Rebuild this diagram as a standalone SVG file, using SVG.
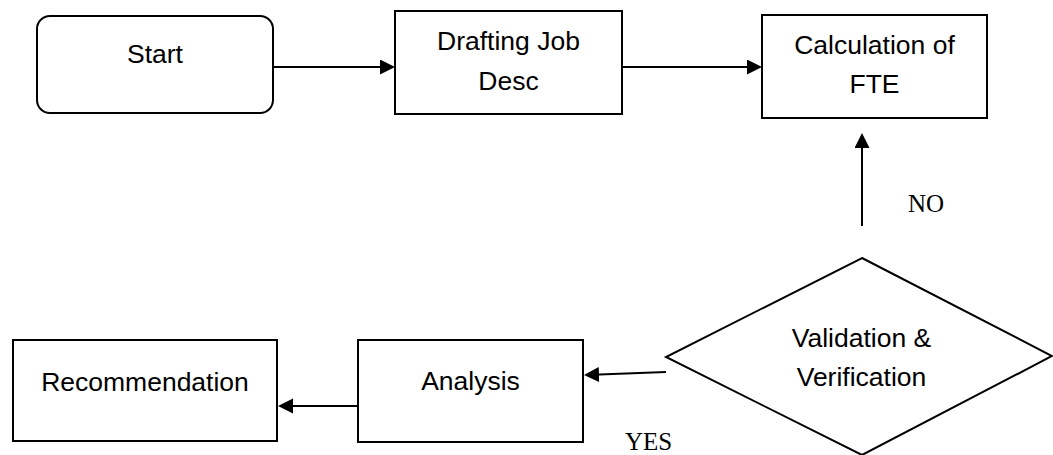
<svg xmlns="http://www.w3.org/2000/svg" width="1053" height="455" viewBox="0 0 1053 455">
<style>
.box{fill:#fff;stroke:#000;stroke-width:2}
.lbl{font-family:"Liberation Sans",Arial,sans-serif;font-size:26.5px;fill:#000;text-anchor:middle}
.ser{font-family:"Liberation Serif","Times New Roman",serif;font-size:25px;fill:#000}
.con{stroke:#000;stroke-width:2;fill:none;marker-end:url(#ah)}
</style>
<defs>
<marker id="ah" markerUnits="userSpaceOnUse" markerWidth="16" markerHeight="16" refX="13" refY="7.5" orient="auto">
<path d="M0,0 L15,7.5 L0,15 z" fill="#000"/>
</marker>
</defs>
<rect width="1053" height="455" fill="#fff"/>
<g id="connectors">
<line class="con" x1="273" y1="67" x2="393" y2="67"/>
<line class="con" x1="622" y1="67" x2="760" y2="67"/>
<line class="con" x1="862" y1="226" x2="862" y2="135"/>
<line class="con" x1="666" y1="372" x2="586" y2="375"/>
<line class="con" x1="358" y1="406" x2="280" y2="406"/>
</g>
<g id="start">
<rect class="box" x="37" y="16" width="236" height="97" rx="13"/>
<text class="lbl" x="155" y="63">Start</text>
</g>
<g id="drafting">
<rect class="box" x="395" y="11" width="227" height="103"/>
<text class="lbl" x="508.5" y="50">Drafting Job</text>
<text class="lbl" x="508.5" y="89.5">Desc</text>
</g>
<g id="calculation">
<rect class="box" x="762" y="15" width="225" height="103"/>
<text class="lbl" x="874.5" y="54">Calculation of</text>
<text class="lbl" x="874.5" y="93">FTE</text>
</g>
<g id="validation">
<polygon class="box" points="862,258 1052,356 862,455 666,357"/>
<text class="lbl" x="861.5" y="346.5">Validation &amp;</text>
<text class="lbl" x="861.5" y="386">Verification</text>
</g>
<g id="analysis">
<rect class="box" x="358" y="340" width="225" height="102"/>
<text class="lbl" x="470.5" y="390">Analysis</text>
</g>
<g id="recommendation">
<rect class="box" x="13" y="340" width="264" height="101"/>
<text class="lbl" x="145" y="391">Recommendation</text>
</g>
<g id="labels">
<text class="ser" x="908" y="212">NO</text>
<text class="ser" x="625" y="450">YES</text>
</g>
</svg>
